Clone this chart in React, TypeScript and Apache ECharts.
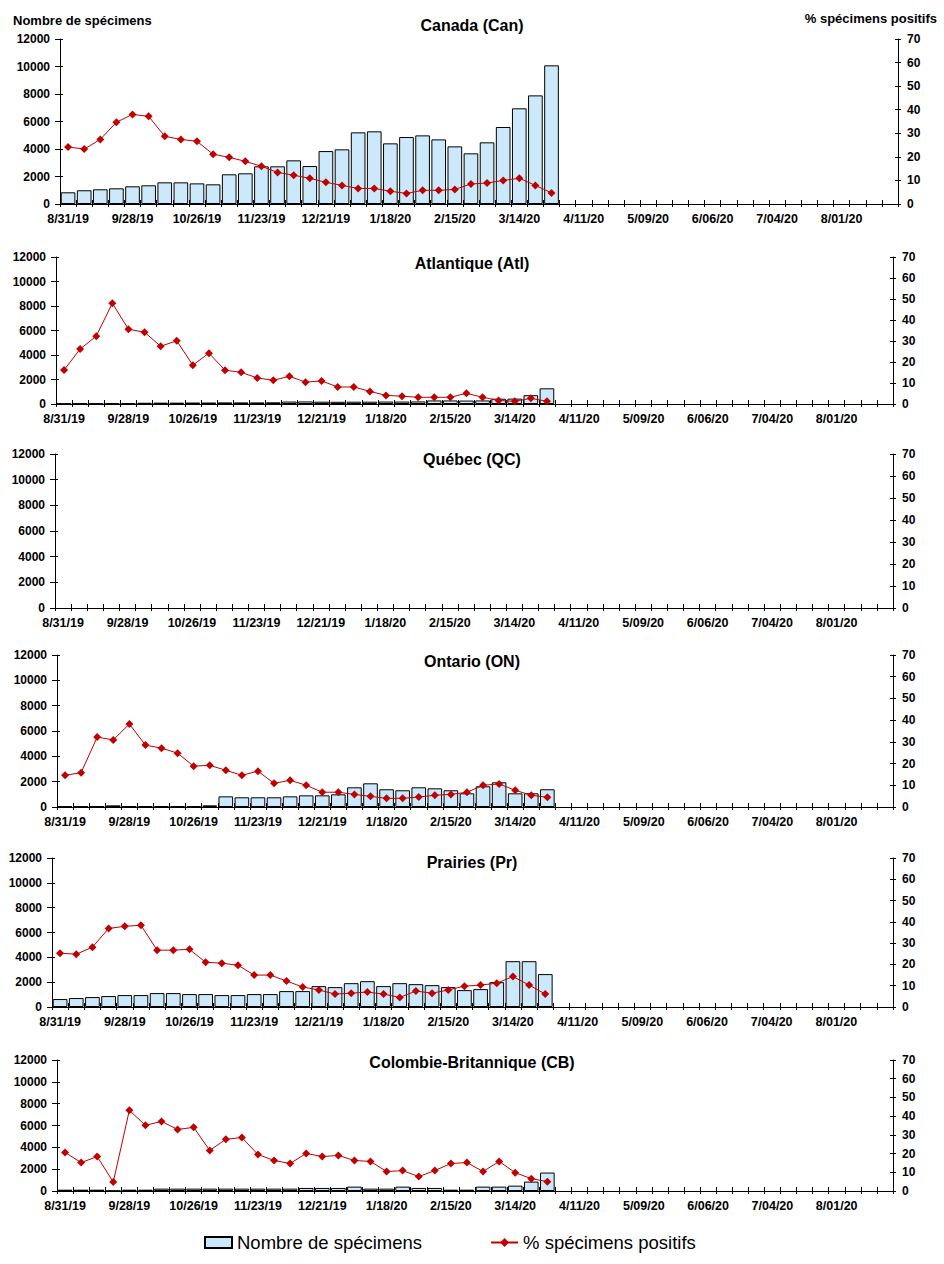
import React, { useEffect, useRef } from "react";
import * as echarts from "echarts";

const weeks = [
  "8/31/19", "9/07/19", "9/14/19", "9/21/19", "9/28/19", "10/05/19", "10/12/19", "10/19/19",
  "10/26/19", "11/02/19", "11/09/19", "11/16/19", "11/23/19", "11/30/19", "12/07/19", "12/14/19",
  "12/21/19", "12/28/19", "1/04/20", "1/11/20", "1/18/20", "1/25/20", "2/01/20", "2/08/20",
  "2/15/20", "2/22/20", "2/29/20", "3/07/20", "3/14/20", "3/21/20", "3/28/20", "4/04/20",
  "4/11/20", "4/18/20", "4/25/20", "5/02/20", "5/09/20", "5/16/20", "5/23/20", "5/30/20",
  "6/06/20", "6/13/20", "6/20/20", "6/27/20", "7/04/20", "7/11/20", "7/18/20", "7/25/20",
  "8/01/20", "8/08/20", "8/15/20", "8/22/20",
];

const canadaCount = [850, 1000, 1070, 1140, 1285, 1360, 1575, 1575, 1500, 1430, 2160, 2230, 2740, 2740, 3175, 2760, 3850, 3975, 5210, 5285, 4410, 4870, 4990, 4700, 4190, 3685, 4485, 5600, 6960, 7900, 10085];
const canadaPct = [24.2, 23.3, 27.4, 34.7, 38.0, 37.2, 28.7, 27.4, 26.6, 21.1, 19.8, 18.1, 16.0, 13.4, 12.2, 10.9, 9.2, 7.9, 6.6, 6.6, 5.4, 4.5, 5.8, 5.8, 6.2, 8.5, 8.9, 10.0, 10.9, 7.9, 4.7];

const atlCount = [40, 50, 50, 60, 70, 100, 110, 110, 120, 120, 130, 130, 130, 140, 200, 210, 190, 180, 190, 190, 200, 200, 210, 290, 290, 280, 290, 430, 440, 720, 1280];
const atlPct = [16.2, 26.2, 32.3, 48.0, 35.6, 34.2, 27.5, 30.1, 18.5, 24.2, 16.1, 15.1, 12.4, 11.3, 13.2, 10.4, 11.0, 8.1, 8.1, 6.0, 4.1, 3.7, 3.2, 3.2, 3.2, 5.1, 3.2, 1.7, 1.3, 2.7, 1.3];

const qcCount: number[] = [];
const qcPct: number[] = [];

const onCount = [50, 50, 60, 130, 60, 60, 60, 60, 60, 130, 840, 765, 765, 765, 840, 920, 920, 1000, 1555, 1870, 1400, 1320, 1555, 1475, 1320, 1080, 1635, 1950, 1080, 1080, 1400];
const onPct = [14.6, 15.8, 32.2, 30.9, 38.2, 28.5, 27.1, 24.8, 18.8, 19.2, 16.9, 14.6, 16.5, 10.9, 12.3, 10.0, 6.8, 6.8, 5.8, 4.9, 4.0, 4.0, 4.6, 5.4, 5.8, 6.8, 10.0, 10.6, 7.7, 5.4, 4.5];

const prCount = [640, 720, 800, 880, 960, 960, 1120, 1120, 1040, 1040, 960, 960, 1040, 1040, 1280, 1280, 1680, 1600, 1920, 2080, 1680, 1920, 1840, 1760, 1600, 1360, 1440, 2000, 3690, 3690, 2650];
const prPct = [25.3, 24.8, 28.1, 36.9, 37.9, 38.4, 26.7, 26.7, 27.1, 21.0, 20.6, 19.6, 15.0, 15.0, 12.2, 9.4, 8.0, 6.1, 6.5, 7.0, 6.1, 4.5, 7.5, 6.5, 8.0, 9.8, 10.3, 11.2, 14.3, 10.3, 6.1];

const cbCount = [120, 120, 120, 30, 120, 120, 215, 215, 215, 215, 215, 215, 215, 215, 215, 280, 280, 280, 400, 215, 215, 400, 280, 280, 120, 120, 400, 400, 490, 860, 1690];
const cbPct = [20.6, 15.2, 18.4, 4.8, 43.1, 35.1, 37.2, 32.9, 34.0, 21.7, 27.6, 28.6, 19.5, 16.3, 14.7, 20.1, 18.4, 19.0, 16.3, 15.8, 10.4, 10.9, 7.7, 10.9, 14.7, 15.2, 10.4, 15.8, 9.8, 6.6, 5.0];

const titles = ["Canada (Can)", "Atlantique (Atl)", "Québec (QC)", "Ontario (ON)", "Prairies (Pr)", "Colombie-Britannique (CB)"];
const countSeries = [canadaCount, atlCount, qcCount, onCount, prCount, cbCount];
const pctSeries = [canadaPct, atlPct, qcPct, onPct, prPct, cbPct];

const COUNT_NAME = "Nombre de spécimens";
const PCT_NAME = "% spécimens positifs";

const layout = [
  { left: 60, top: 39, width: 838, height: 165, titleY: 25 },
  { left: 56, top: 257, width: 837, height: 147, titleY: 263 },
  { left: 55, top: 454, width: 838, height: 154, titleY: 459 },
  { left: 57, top: 655, width: 836, height: 152, titleY: 661 },
  { left: 52, top: 858, width: 841, height: 149, titleY: 862 },
  { left: 57, top: 1060, width: 836, height: 131, titleY: 1062 },
];

const FONT = '"Liberation Sans", Arial, sans-serif';

export default function App() {
  const ref = useRef<HTMLDivElement>(null);
  useEffect(() => {
    if (!ref.current) return;
    const chart = echarts.init(ref.current, undefined, { renderer: "svg" });
    const grids: any[] = [];
    const xAxes: any[] = [];
    const yAxes: any[] = [];
    const series: any[] = [];
    const graphics: any[] = [];
    const black = { color: "#000", width: 1 };
    const labelStyle = { color: "#000", fontWeight: "bold", fontSize: 12, fontFamily: FONT };
    const plain = (v: number) => String(v);

    layout.forEach((l, i) => {
      grids.push({ left: l.left, top: l.top, width: l.width, height: l.height, containLabel: false });
      xAxes.push({
        type: "category", gridIndex: i, data: weeks, boundaryGap: true, position: "bottom",
        axisLine: { lineStyle: black },
        axisTick: { show: true, interval: 0, length: 3, lineStyle: black },
        axisLabel: { ...labelStyle, fontSize: 12.5, interval: 3, margin: 8 },
        splitLine: { show: false },
      });
      xAxes.push({
        type: "category", gridIndex: i, data: weeks, boundaryGap: true, position: "bottom",
        axisLine: { show: false },
        axisTick: { show: true, inside: true, interval: 0, length: 4, lineStyle: black },
        axisLabel: { show: false },
        splitLine: { show: false },
      });
      yAxes.push({
        type: "value", gridIndex: i, min: 0, max: 12000, interval: 2000, position: "left",
        axisLine: { show: true, lineStyle: black },
        axisTick: { show: true, length: 5, lineStyle: black },
        axisLabel: { ...labelStyle, margin: 10, formatter: plain },
        splitLine: { show: false },
      });
      yAxes.push({
        type: "value", gridIndex: i, min: 0, max: 70, interval: 10, position: "right",
        axisLine: { show: true, lineStyle: black },
        axisTick: { show: true, length: 3, lineStyle: black },
        axisLabel: { ...labelStyle, margin: 9, formatter: plain },
        splitLine: { show: false },
      });
      yAxes.push({
        type: "value", gridIndex: i, min: 0, max: 12000, interval: 2000, position: "left",
        axisLine: { show: false },
        axisTick: { show: true, inside: true, length: 3, lineStyle: black },
        axisLabel: { show: false },
        splitLine: { show: false },
      });
      yAxes.push({
        type: "value", gridIndex: i, min: 0, max: 70, interval: 10, position: "right",
        axisLine: { show: false },
        axisTick: { show: true, inside: true, length: 3, lineStyle: black },
        axisLabel: { show: false },
        splitLine: { show: false },
      });
      series.push({
        type: "bar", name: COUNT_NAME, xAxisIndex: i * 2, yAxisIndex: i * 4,
        data: countSeries[i], barCategoryGap: "9%",
        itemStyle: { color: "#cce9fb", borderColor: "#000", borderWidth: 1 },
        z: 2,
      });
      series.push({
        type: "line", name: PCT_NAME, xAxisIndex: i * 2, yAxisIndex: i * 4 + 1,
        data: pctSeries[i], symbol: "diamond", symbolSize: 8,
        itemStyle: { color: "#c00000" }, lineStyle: { color: "#c00000", width: 1 },
        z: 3,
      });
      graphics.push({
        type: "text", x: 472, y: l.titleY,
        style: { text: titles[i], font: `bold 16px ${FONT}`, fill: "#000", align: "center", verticalAlign: "middle", textAlign: "center", textVerticalAlign: "middle" },
      });
    });

    graphics.push({
      type: "text", x: 13, y: 20,
      style: { text: COUNT_NAME, font: `bold 13px ${FONT}`, fill: "#000", align: "left", verticalAlign: "middle", textAlign: "left", textVerticalAlign: "middle" },
    });
    graphics.push({
      type: "text", x: 937, y: 18,
      style: { text: PCT_NAME, font: `bold 13px ${FONT}`, fill: "#000", align: "right", verticalAlign: "middle", textAlign: "right", textVerticalAlign: "middle" },
    });

    chart.setOption({
      animation: false,
      backgroundColor: "#fff",
      grid: grids,
      xAxis: xAxes,
      yAxis: yAxes,
      series,
      graphic: graphics,
      legend: {
        left: 204, top: 1233, padding: 0, itemWidth: 27, itemHeight: 11, itemGap: 68,
        textStyle: { fontSize: 18.5, color: "#000", fontFamily: FONT },
        data: [{ name: COUNT_NAME, icon: "rect" }, { name: PCT_NAME }],
      },
    });
    return () => chart.dispose();
  }, []);
  return <div ref={ref} style={{ position: "absolute", left: 0, top: 0, width: 944, height: 1264 }} />;
}
